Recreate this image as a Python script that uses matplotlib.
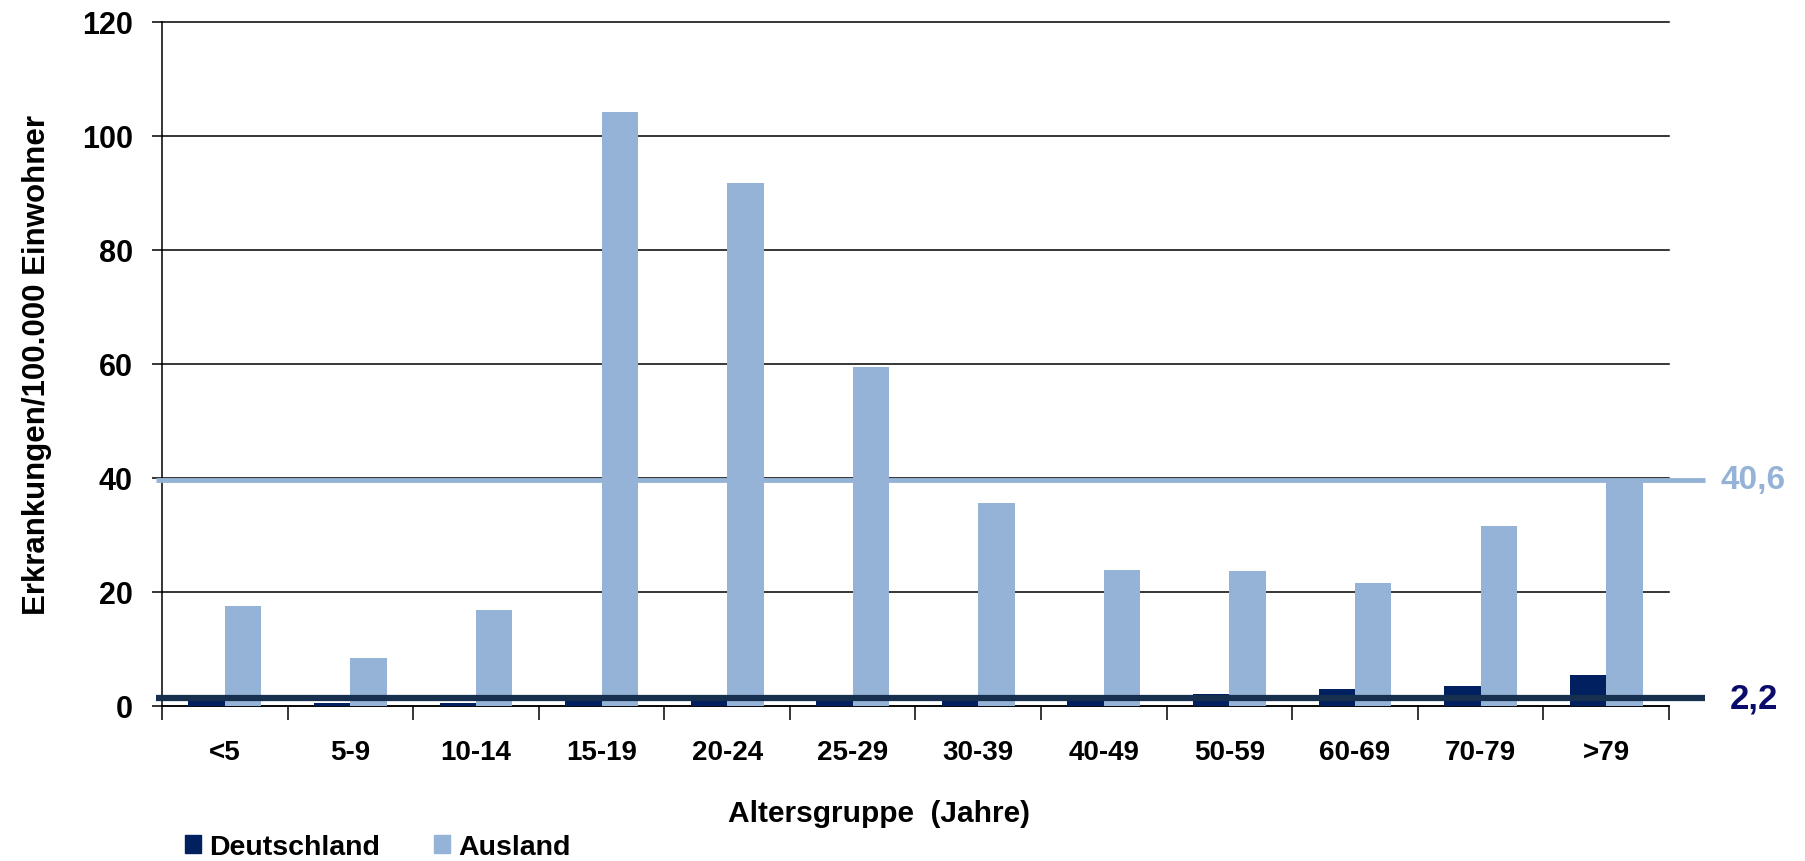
import numpy as np
import matplotlib.pyplot as plt
from matplotlib.patches import Patch

plt.rcParams['font.family'] = ['Liberation Sans', 'DejaVu Sans']
plt.rcParams['font.weight'] = 'bold'
plt.rcParams['axes.labelweight'] = 'bold'

# data
altersgruppen = ['<5', '5-9', '10-14', '15-19', '20-24', '25-29',
                 '30-39', '40-49', '50-59', '60-69', '70-79', '>79']
deutschland = [1.9, 0.5, 0.5, 0.9, 1.4, 1.5, 1.5, 1.6, 2.1, 3.0, 3.5, 5.4]
ausland = [17.6, 8.5, 16.8, 104.2, 91.7, 59.4, 35.6, 23.8, 23.6, 21.6, 31.5, 39.3]
mittel_ausland = 39.7      # drawn position of the 40,6 line
mittel_deutschland = 1.4   # drawn position of the 2,2 line
mittel_labels = ['40,6', '2,2']

c_de = '#002060'
c_aus = '#95B3D7'
c_line_de = '#17304F'
c_lab_de = '#0B0B6B'

fig = plt.figure(figsize=(18.05, 8.62), dpi=100)
ax = fig.add_axes([162/1805, 1 - 707/862, (1669 - 162)/1805, (707 - 23)/862])

x = np.arange(len(altersgruppen))
w = 0.29
ax.bar(x - w/2, deutschland, w, color=c_de, zorder=3)
ax.bar(x + w/2, ausland, w, color=c_aus, zorder=3)

ax.set_xlim(-0.5, len(altersgruppen) - 0.5)
ax.set_ylim(0, 120)
ax.set_yticks(np.arange(0, 121, 20))
ax.yaxis.grid(True, color='black', linewidth=1.1, zorder=1)
for gl in ax.yaxis.get_gridlines():
    gl.set_clip_on(False)
ax.tick_params(axis='y', length=7, width=1.1, pad=14, labelsize=22)

ax.set_xticks(x)
ax.set_xticklabels(altersgruppen, fontsize=20)
ax.set_xticks(np.arange(-0.5, len(altersgruppen)), minor=True)
ax.tick_params(axis='x', which='major', length=0, pad=24)
ax.tick_params(axis='x', which='minor', length=10, width=1.1)

for s in ['top', 'right']:
    ax.spines[s].set_visible(False)
for s in ['left', 'bottom']:
    ax.spines[s].set_linewidth(1.1)

# reference lines extending beyond the plot area
x_end = len(altersgruppen) - 0.5 + 36/125.6
ax.plot([-0.55, x_end], [mittel_ausland] * 2, color=c_aus, linewidth=3.5,
        clip_on=False, zorder=4, solid_capstyle='butt')
ax.plot([-0.55, x_end], [mittel_deutschland] * 2, color=c_line_de, linewidth=4.5,
        clip_on=False, zorder=4, solid_capstyle='butt')
ax.text(x_end + 0.12, mittel_ausland, mittel_labels[0], color=c_aus, fontsize=24,
        va='center', ha='left', fontweight='bold', clip_on=False)
ax.text(x_end + 0.2, mittel_deutschland, mittel_labels[1], color=c_lab_de, fontsize=25,
        va='center', ha='left', fontweight='bold', clip_on=False)

ax.set_ylabel('Erkrankungen/100.000 Einwohner', fontsize=22.5)
ax.yaxis.set_label_coords(-0.073, 0.5)
fig.text((162 + 1669) / 2 / 1805 - 0.02, 1 - 814/862, 'Altersgruppe  (Jahre)',
         ha='center', va='center', fontsize=21.5)

handles = [Patch(color=c_de), Patch(color=c_aus)]
fig.legend(handles, ['Deutschland', 'Ausland'], loc='center left',
           bbox_to_anchor=(185/1805, 1 - 848/862), ncol=2, frameon=False,
           fontsize=20.5, handlelength=0.55, handleheight=0.55, handletextpad=0.3,
           columnspacing=1.9, borderaxespad=0, borderpad=0)

fig.savefig('out.png', dpi=100)
